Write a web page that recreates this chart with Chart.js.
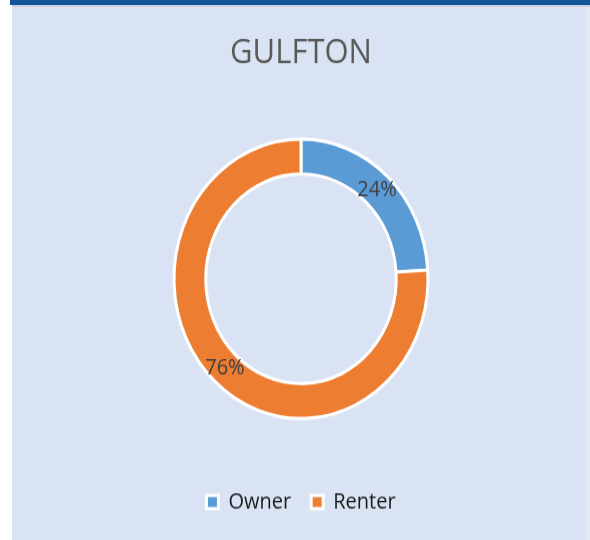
<!DOCTYPE html>
<html>
<head>
<meta charset="utf-8">
<script src="https://cdn.jsdelivr.net/npm/chart.js@4.4.1/dist/chart.umd.min.js"></script>
<style>
    body { margin: 0; background: #ffffff; }
    #topbar { position: absolute; left: 10px; top: 0; width: 580px; height: 5px; background: #0f5598; }
    #line { position: absolute; left: 12px; top: 5px; width: 578px; height: 2px; background: #c9d0da; }
    #panel { position: absolute; left: 12px; top: 7px; width: 574px; height: 533px; background: #dae3f3; }
    #edge { position: absolute; left: 586px; top: 7px; width: 4px; height: 533px; background: #e2e9f5; }
    #wrap { position: absolute; left: 12px; top: 7px; width: 578px; height: 485px;
            transform: scaleY(1.1); transform-origin: 0 0; }
</style>
</head>
<body>
<div id="topbar"></div>
<div id="line"></div>
<div id="panel"></div>
<div id="edge"></div>
<div id="wrap"><canvas id="chart"></canvas></div>
<script>
const title = 'GULFTON';
const categories = ['Owner', 'Renter'];
const shares = [24, 76];
const colors = ['#5b9bd5', '#ed7d31'];

// percent labels in the middle of each ring segment
const sliceLabels = {
    id: 'sliceLabels',
    afterDatasetsDraw(chart) {
        const ctx = chart.ctx;
        const meta = chart.getDatasetMeta(0);
        ctx.save();
        ctx.font = '20px "Open Sans"';
        ctx.fillStyle = '#404040';
        ctx.textAlign = 'center';
        ctx.textBaseline = 'middle';
        meta.data.forEach((arc, i) => {
            const pos = arc.tooltipPosition();
            ctx.fillText(shares[i] + '%', pos.x, pos.y);
        });
        ctx.restore();
    }
};

const gulftonChart = new Chart(document.getElementById('chart'), {
    type: 'doughnut',
    data: {
        labels: categories,
        datasets: [{
            data: shares,
            backgroundColor: colors,
            borderColor: '#ffffff',
            borderWidth: 3
        }]
    },
    options: {
        responsive: true,
        maintainAspectRatio: false,
        animation: false,
        radius: 127,
        cutout: '75%',
        layout: { padding: { top: 0, bottom: 15 } },
        plugins: {
            title: {
                display: true,
                text: title,
                color: '#595959',
                font: { family: 'Open Sans', size: 31, weight: 'normal' },
                padding: { top: 24, bottom: 13 }
            },
            legend: {
                position: 'bottom',
                labels: {
                    color: '#1a1a1a',
                    font: { family: 'Open Sans', size: 20 },
                    boxWidth: 12,
                    boxHeight: 12,
                    padding: 20
                }
            },
            tooltip: { enabled: false }
        }
    },
    plugins: [sliceLabels]
});
</script>
</body>
</html>
